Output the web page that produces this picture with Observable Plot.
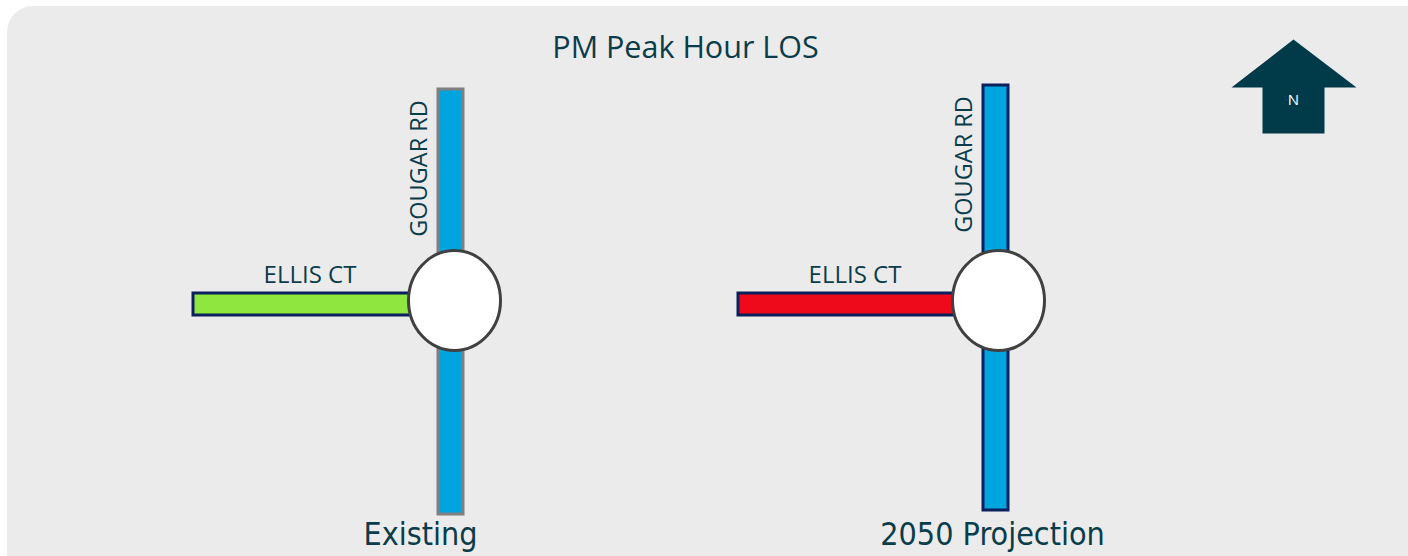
<!DOCTYPE html>
<html>
<head>
<meta charset="utf-8">
<script src="https://cdn.jsdelivr.net/npm/d3@7"></script>
<script src="https://cdn.jsdelivr.net/npm/@observablehq/plot@0.6"></script>
<style>
  html, body { margin: 0; padding: 0; background: #ffffff; }
  #chart svg { display: block; }
</style>
</head>
<body>
<div id="chart"></div>
<script>
// ---- data ----
const title = "PM Peak Hour LOS";
const scenarios = ["Existing", "2050 Projection"];
const scenarioLabelX = [420, 992];
const mainRoad = "GOUGAR RD";
const sideRoad = "ELLIS CT";
// main road (north-south) extents per scenario, schematic units
const mainX1 = [438, 983];
const mainX2 = [463, 1008];
const mainTop = [89, 85];
const mainBottom = [514, 510];
const mainLOS = ["moderate", "moderate"];
const mainEdge = ["existing", "projected"];
// side road (west leg) extents
const sideX1 = [193, 738];
const sideX2 = [420, 965];
const sideTop = [293, 293];
const sideBottom = [315, 315];
const sideLOS = ["good", "poor"];
// roundabout centres
const nodeX = [454, 998];
const nodeY = [300, 300];
// north arrow outline
const arrowX = [1293, 1356, 1324, 1324, 1262, 1262, 1231, 1293];
const arrowY = [39, 87, 87, 133, 133, 87, 87, 39];

// ---- build tables ----
const mainRoads = scenarios.map((s, i) => ({s, x1: mainX1[i], x2: mainX2[i], y1: mainTop[i], y2: mainBottom[i], los: mainLOS[i], edge: mainEdge[i]}));
const sideRoads = scenarios.map((s, i) => ({s, x1: sideX1[i], x2: sideX2[i], y1: sideTop[i], y2: sideBottom[i], los: sideLOS[i]}));
const nodes = scenarios.map((s, i) => ({s, x: nodeX[i], y: nodeY[i]}));
const arrow = arrowX.map((x, i) => ({x, y: arrowY[i]}));
const labels = scenarios.map((s, i) => ({s, x: scenarioLabelX[i]}));

const losColor = {good: "#8ee63e", moderate: "#00a5e0", poor: "#ee0a1a"};
const edgeColor = {existing: "#808080", projected: "#0a1f5c"};
const textColor = "#0b3c4a";

// slightly oval roundabout symbol
const oval = {
  draw(ctx, size) {
    const r = Math.sqrt(size / Math.PI), a = r * 0.92, b = r, k = 0.5523;
    ctx.moveTo(a, 0);
    ctx.bezierCurveTo(a, b * k, a * k, b, 0, b);
    ctx.bezierCurveTo(-a * k, b, -a, b * k, -a, 0);
    ctx.bezierCurveTo(-a, -b * k, -a * k, -b, 0, -b);
    ctx.bezierCurveTo(a * k, -b, a, -b * k, a, 0);
    ctx.closePath();
  }
};

const chart = Plot.plot({
  width: 1408,
  height: 556,
  margin: 0,
  x: {domain: [0, 1408], range: [0, 1408], axis: null},
  y: {domain: [0, 556], range: [0, 556], axis: null},
  style: {background: "#ffffff"},
  marks: [
    // panel background
    Plot.rect([{x1: 7, x2: 1460, y1: 6, y2: 620}], {x1: "x1", x2: "x2", y1: "y1", y2: "y2", fill: "#ebebeb", rx: 26}),
    // title
    Plot.text([title], {x: 685, y: 48, text: d => d, fontSize: 30.5, fill: textColor, fontFamily: "Open Sans", textAnchor: "middle", lineAnchor: "middle"}),
    // main road
    Plot.rect(mainRoads, {x1: "x1", x2: "x2", y1: "y1", y2: "y2", fill: d => losColor[d.los], stroke: d => edgeColor[d.edge], strokeWidth: 3}),
    // side road
    Plot.rect(sideRoads, {x1: "x1", x2: "x2", y1: "y1", y2: "y2", fill: d => losColor[d.los], stroke: "#0a1f5c", strokeWidth: 3}),
    // roundabouts
    Plot.dot(nodes, {x: "x", y: "y", r: 50, symbol: oval, fill: "#ffffff", stroke: "#404040", strokeWidth: 3}),
    // road names
    Plot.text(sideRoads, {x: d => (d.x1 + d.x2) / 2 + 3, y: 275, text: () => sideRoad, fontSize: 24, fill: textColor, fontFamily: "Open Sans", textAnchor: "middle", lineAnchor: "middle"}),
    Plot.text(mainRoads, {x: d => d.x1 - 19, y: d => d.y1 + 79, text: () => mainRoad, rotate: -90, fontSize: 23.5, fill: textColor, fontFamily: "Open Sans", textAnchor: "middle", lineAnchor: "middle"}),
    // scenario labels
    Plot.text(labels, {x: "x", y: 534, text: "s", fontSize: 32, fill: textColor, fontFamily: "DejaVu Sans Condensed", fontStretch: "condensed", textAnchor: "middle", lineAnchor: "middle"}),
    // north arrow
    Plot.line(arrow, {x: "x", y: "y", fill: "#013a49", stroke: "none", curve: "linear"}),
    Plot.text(["N"], {x: 1293, y: 100, text: d => d, fontSize: 15, fill: "#ffffff", fontFamily: "Open Sans", textAnchor: "middle", lineAnchor: "middle"})
  ]
});
document.getElementById("chart").appendChild(chart);
</script>
</body>
</html>
